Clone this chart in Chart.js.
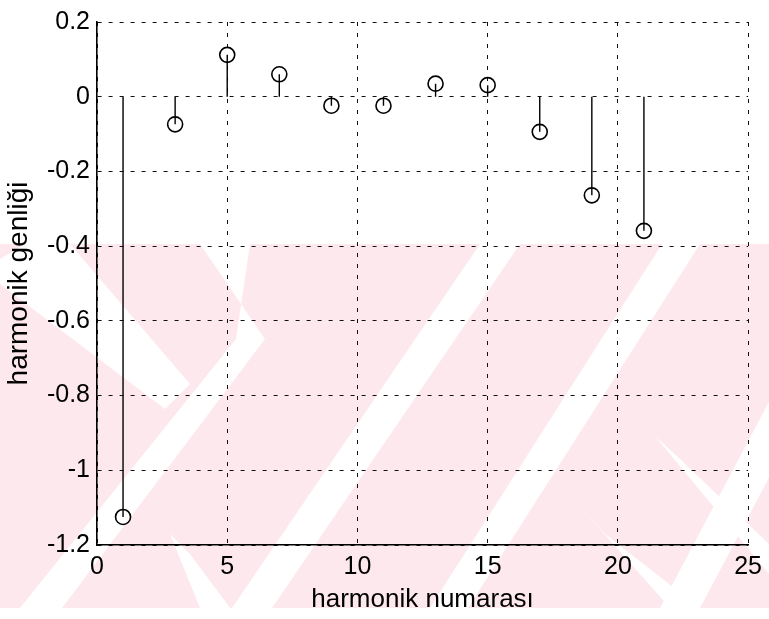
<!DOCTYPE html>
<html>
<head>
<meta charset="utf-8">
<script src="https://cdn.jsdelivr.net/npm/chart.js@4/dist/chart.umd.min.js"></script>
<style>
  html, body { margin: 0; padding: 0; background: #fff; }
  #wrap { width: 769px; height: 619px; }
</style>
</head>
<body>
<div id="wrap"><canvas id="stem"></canvas></div>
<script>
// harmonic numbers and amplitudes
const harmonics = [1, 3, 5, 7, 9, 11, 13, 15, 17, 19, 21];
const amplitudes = [-1.125, -0.074, 0.112, 0.06, -0.024, -0.024, 0.035, 0.031, -0.094, -0.264, -0.359];
const xTicks = [0, 5, 10, 15, 20, 25];
const yTicks = [-1.2, -1, -0.8, -0.6, -0.4, -0.2, 0, 0.2];

const FONT = "'Liberation Sans', Arial, sans-serif";

// stems: one segment per harmonic, split by null gaps
const stemPoints = harmonics.flatMap((h, i) => [
  { x: h, y: 0 },
  { x: h, y: amplitudes[i] },
  { x: h, y: null }
]);
const markerPoints = harmonics.map((h, i) => ({ x: h, y: amplitudes[i] }));

// faint pink watermark behind the plot (rough chevron stripes)
const watermark = {
  id: 'watermark',
  beforeDraw(chart) {
    const ctx = chart.ctx;
    const top = 244, bottom = 608, W = chart.width;
    const band = (pts) => {
      ctx.beginPath();
      ctx.moveTo(pts[0][0], pts[0][1]);
      pts.slice(1).forEach(p => ctx.lineTo(p[0], p[1]));
      ctx.closePath();
      ctx.fill();
    };
    ctx.save();
    ctx.fillStyle = '#fff';
    ctx.fillRect(0, 0, W, chart.height);
    ctx.fillStyle = '#fde9ed';
    ctx.fillRect(0, top, W, bottom - top);
    ctx.beginPath();
    ctx.rect(0, top, W, bottom - top);
    ctx.clip();
    ctx.fillStyle = '#fff';
    // rising stripes
    band([[20, bottom], [62, bottom], [265, top + 95], [236, top + 95]]);
    band([[232, bottom], [272, bottom], [520, top], [480, top]]);
    band([[430, bottom], [468, bottom], [700, top], [662, top]]);
    band([[660, bottom], [700, bottom], [W + 60, top + 120], [W + 20, top + 120]]);
    // falling stripes
    band([[25, top], [70, top], [190, top + 140], [165, top + 165], [0, top + 40], [0, top + 15]]);
    band([[200, top], [250, top], [236, top + 95], [265, top + 95]]);
    band([[655, top + 192], [680, top + 215], [W, top + 300], [W, top + 330]]);
    band([[583, top + 266], [605, top + 290], [700, bottom], [670, bottom]]);
    band([[170, top + 290], [190, top + 310], [230, bottom], [200, bottom]]);
    ctx.restore();
  }
};

new Chart(document.getElementById('stem'), {
  type: 'scatter',
  data: {
    datasets: [{
      type: 'line',
      data: stemPoints,
      borderColor: '#000',
      borderWidth: 1.4,
      pointRadius: 0,
      spanGaps: false,
      order: 2
    }, {
      data: markerPoints,
      pointStyle: 'circle',
      pointRadius: 7.5,
      pointBorderWidth: 1.6,
      borderColor: '#000',
      backgroundColor: 'rgba(0,0,0,0)',
      order: 1
    }]
  },
  options: {
    responsive: true,
    maintainAspectRatio: false,
    animation: false,
    layout: { padding: { left: 2, right: 18, top: 18, bottom: 4 } },
    plugins: { legend: { display: false }, tooltip: { enabled: false } },
    scales: {
      x: {
        type: 'linear',
        min: 0,
        max: 25,
        afterBuildTicks: s => { s.ticks = xTicks.map(v => ({ value: v })); },
        afterFit: s => { s.height = 70; },
        grid: { color: '#111', lineWidth: 1, drawTicks: false },
        border: { color: '#000', width: 1.6, dash: [4, 7] },
        ticks: { color: '#000', padding: 7, font: { family: FONT, size: 25 } },
        title: {
          display: true,
          text: 'harmonik numarası',
          color: '#000',
          padding: 0,
          font: { family: FONT, size: 26 }
        }
      },
      y: {
        min: -1.2,
        max: 0.2,
        afterBuildTicks: s => { s.ticks = yTicks.map(v => ({ value: v })); },
        afterFit: s => { s.width = 95; },
        grid: { color: '#111', lineWidth: 1, drawTicks: false },
        border: { color: '#000', width: 1.6, dash: [4, 7] },
        ticks: {
          color: '#000',
          padding: 7,
          font: { family: FONT, size: 25 },
          callback: v => String(Number(v.toFixed(1)))
        },
        title: {
          display: true,
          text: 'harmonik genliği',
          color: '#000',
          padding: 0,
          font: { family: FONT, size: 28 }
        }
      }
    }
  },
  plugins: [watermark]
});
</script>
</body>
</html>
